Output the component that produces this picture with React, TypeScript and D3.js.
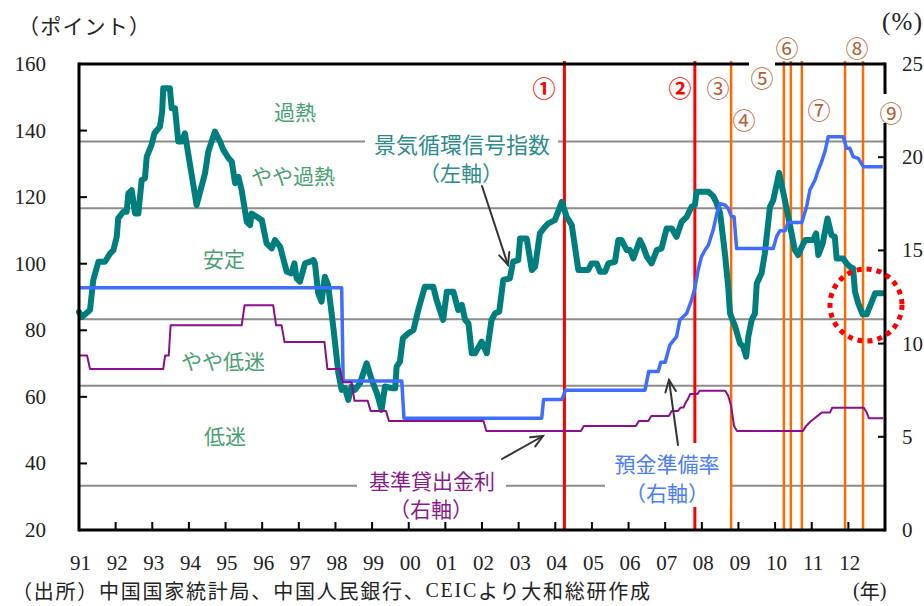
import React from 'react';
import * as d3 from 'd3';

const W = 924;
const H = 606;
const PL = 79, PR = 885, PT = 64, PB = 530;

const yearLabels = ['91','92','93','94','95','96','97','98','99','00','01','02','03','04','05','06','07','08','09','10','11','12'];
const leftTicks = [20, 40, 60, 80, 100, 120, 140, 160];
const rightTicks = [0, 5, 10, 15, 20, 25];
const zoneLines = [136.7, 116.7, 83.3, 63.3, 33.3];
const zoneNames = ['過熱', 'やや過熱', '安定', 'やや低迷', '低迷'];
const eventDates = [2004.25, 2007.81, 2008.80, 2010.24, 2010.43, 2010.73, 2011.91, 2012.40];
const eventMarks = ['①', '②', '③', '④', '⑤', '⑥', '⑦', '⑧', '⑨'];

// 景気循環信号指数 (left axis) [year, index]
const ceiIndex: [number, number][] = [
  [1991.00, 85.5], [1991.08, 84.0], [1991.30, 86.1], [1991.39, 95.1], [1991.53, 100.6], [1991.71, 100.6],
  [1991.85, 103.1], [1991.94, 104.1], [1992.03, 108.1], [1992.07, 113.6], [1992.21, 115.6], [1992.30, 115.6],
  [1992.35, 121.2], [1992.44, 122.1], [1992.53, 115.1], [1992.62, 115.1], [1992.71, 125.1], [1992.80, 125.7],
  [1992.85, 132.2], [1992.98, 135.7], [1993.06, 139.2], [1993.21, 141.2], [1993.27, 145.7], [1993.30, 152.7],
  [1993.48, 152.7], [1993.53, 146.7], [1993.62, 146.7], [1993.71, 136.7], [1993.80, 136.7], [1993.89, 139.2],
  [1994.21, 117.6], [1994.44, 127.2], [1994.53, 133.7], [1994.71, 139.7], [1994.85, 136.7], [1994.94, 134.2],
  [1995.08, 131.7], [1995.17, 130.7], [1995.26, 124.2], [1995.35, 126.1], [1995.44, 122.1], [1995.58, 112.6],
  [1995.67, 111.6], [1995.71, 115.1], [1995.85, 114.1], [1995.99, 113.1], [1996.12, 106.1], [1996.26, 104.6],
  [1996.35, 107.1], [1996.49, 105.1], [1996.67, 97.6], [1996.80, 97.1], [1996.88, 100.1], [1996.94, 95.6],
  [1997.03, 94.6], [1997.17, 100.1], [1997.31, 100.6], [1997.40, 101.1], [1997.44, 100.1], [1997.53, 91.1],
  [1997.62, 88.6], [1997.71, 96.1], [1997.80, 93.6], [1997.94, 81.1], [1998.08, 67.1], [1998.17, 62.1],
  [1998.26, 62.6], [1998.35, 59.1], [1998.44, 63.1], [1998.53, 62.1], [1998.67, 64.1], [1998.85, 70.1],
  [1998.99, 65.1], [1999.13, 61.1], [1999.26, 56.1], [1999.35, 63.1], [1999.54, 62.6], [1999.63, 62.6],
  [1999.67, 69.1], [1999.76, 70.6], [1999.84, 77.6], [1999.99, 79.1], [2000.13, 80.1], [2000.26, 86.1],
  [2000.44, 93.1], [2000.67, 93.1], [2000.76, 89.1], [2000.94, 83.1], [2001.04, 91.6], [2001.22, 91.6],
  [2001.35, 86.1], [2001.45, 87.6], [2001.54, 83.1], [2001.63, 82.1], [2001.72, 73.1], [2001.81, 73.1],
  [2001.99, 76.6], [2002.13, 73.1], [2002.26, 83.1], [2002.36, 85.1], [2002.47, 85.6], [2002.58, 95.1],
  [2002.76, 95.6], [2002.85, 100.6], [2002.99, 101.1], [2003.04, 107.6], [2003.22, 107.6], [2003.36, 98.1],
  [2003.45, 99.1], [2003.58, 109.1], [2003.72, 111.1], [2003.81, 112.1], [2003.99, 113.1], [2004.18, 118.6],
  [2004.31, 114.1], [2004.45, 111.6], [2004.63, 98.1], [2004.90, 98.1], [2004.99, 100.1], [2005.13, 100.1],
  [2005.22, 97.6], [2005.36, 97.6], [2005.45, 100.1], [2005.63, 100.6], [2005.72, 107.1], [2005.81, 107.1],
  [2005.95, 104.1], [2006.04, 104.1], [2006.13, 101.6], [2006.31, 107.1], [2006.40, 105.1], [2006.50, 102.1],
  [2006.63, 100.1], [2006.77, 104.1], [2006.90, 104.6], [2007.04, 110.6], [2007.18, 110.6], [2007.31, 108.1],
  [2007.45, 112.6], [2007.59, 114.1], [2007.72, 117.1], [2007.81, 117.6], [2007.86, 121.6], [2008.18, 121.6],
  [2008.31, 120.3], [2008.41, 118.1], [2008.50, 115.1], [2008.63, 103.1], [2008.72, 93.1], [2008.77, 85.1],
  [2008.91, 81.1], [2009.04, 76.1], [2009.13, 75.1], [2009.21, 72.1], [2009.27, 78.1], [2009.36, 83.1],
  [2009.45, 85.1], [2009.50, 94.1], [2009.63, 97.1], [2009.72, 103.1], [2009.86, 117.1], [2009.95, 119.1],
  [2010.11, 127.3], [2010.22, 121.6], [2010.36, 114.1], [2010.54, 104.1], [2010.63, 102.6], [2010.73, 105.1],
  [2010.82, 107.1], [2011.04, 107.1], [2011.12, 109.1], [2011.18, 102.6], [2011.30, 106.1], [2011.43, 113.6],
  [2011.54, 108.6], [2011.63, 108.1], [2011.68, 101.6], [2011.86, 101.6], [2011.95, 100.1], [2012.04, 99.1],
  [2012.13, 98.6], [2012.18, 91.6], [2012.27, 88.1], [2012.39, 84.8], [2012.50, 84.8], [2012.64, 88.6],
  [2012.73, 91.1], [2012.94, 91.1],
];

// 預金準備率 (right axis, %)
const reserveRatio: [number, number][] = [
  [1991.00, 13.0], [1998.17, 13.0], [1998.21, 8.0], [1999.81, 8.0], [1999.87, 6.0], [2003.63, 6.0],
  [2003.68, 7.0], [2004.18, 7.0], [2004.28, 7.5], [2006.45, 7.5], [2006.55, 8.5], [2006.81, 8.5],
  [2006.88, 9.0], [2007.00, 9.0], [2007.09, 9.66], [2007.13, 9.93], [2007.31, 10.37], [2007.40, 11.27],
  [2007.54, 11.53], [2007.59, 11.63], [2007.72, 12.34], [2007.81, 12.97], [2007.90, 13.95], [2007.99, 14.66],
  [2008.09, 15.02], [2008.18, 15.29], [2008.31, 16.09], [2008.41, 16.99], [2008.50, 17.5], [2008.63, 17.44],
  [2008.72, 17.26], [2008.81, 16.81], [2008.88, 16.81], [2008.95, 15.1], [2009.95, 15.1], [2010.04, 15.74],
  [2010.13, 16.05], [2010.27, 16.05], [2010.36, 16.5], [2010.73, 16.5], [2010.86, 17.34], [2010.95, 18.24],
  [2011.09, 18.78], [2011.18, 19.31], [2011.27, 19.76], [2011.36, 20.29], [2011.45, 21.1], [2011.86, 21.1],
  [2011.95, 20.48], [2012.04, 20.48], [2012.13, 20.03], [2012.27, 19.94], [2012.41, 19.49], [2012.94, 19.49],
];

// 基準貸出金利 (right axis, %)
const lendingRate: [number, number][] = [
  [1991.00, 9.36], [1991.22, 9.36], [1991.30, 8.64], [1993.30, 8.64], [1993.35, 9.36], [1993.45, 9.36],
  [1993.50, 10.98], [1995.44, 10.98], [1995.52, 12.06], [1996.30, 12.06], [1996.38, 10.98], [1996.53, 10.98],
  [1996.61, 10.08], [1997.70, 10.08], [1997.78, 8.64], [1998.12, 8.64], [1998.20, 7.92], [1998.44, 7.92],
  [1998.52, 6.93], [1998.88, 6.93], [1998.96, 6.39], [1999.38, 6.39], [1999.46, 5.85], [2002.04, 5.85],
  [2002.12, 5.31], [2004.70, 5.31], [2004.78, 5.58], [2006.20, 5.58], [2006.28, 5.85], [2006.54, 5.85],
  [2006.62, 6.12], [2007.10, 6.12], [2007.18, 6.39], [2007.35, 6.39], [2007.42, 6.57], [2007.50, 6.57],
  [2007.56, 6.84], [2007.62, 7.02], [2007.68, 7.29], [2007.88, 7.29], [2007.94, 7.47], [2008.64, 7.47],
  [2008.72, 7.2], [2008.80, 6.66], [2008.88, 5.58], [2008.96, 5.31], [2010.76, 5.31], [2010.84, 5.56],
  [2010.96, 5.81], [2011.12, 6.06], [2011.28, 6.31], [2011.50, 6.31], [2011.56, 6.56], [2012.42, 6.56],
  [2012.50, 6.31], [2012.56, 6.0], [2012.95, 6.0],
];

const SERIF = "Liberation Serif";
const CJK = "Noto Sans CJK JP";

const Arrow = ({ x1, y1, x2, y2 }: { x1: number; y1: number; x2: number; y2: number }) => {
  const a = Math.atan2(y2 - y1, x2 - x1);
  const L = 13, s = 0.42;
  const p1 = [x2 - L * Math.cos(a - s), y2 - L * Math.sin(a - s)];
  const p2 = [x2 - L * Math.cos(a + s), y2 - L * Math.sin(a + s)];
  return (
    <g stroke="#333" strokeWidth={2} fill="none" strokeLinecap="round">
      <line x1={x1} y1={y1} x2={x2} y2={y2} />
      <polyline points={`${p1[0]},${p1[1]} ${x2},${y2} ${p2[0]},${p2[1]}`} />
    </g>
  );
};

export default function App() {
  const x = d3.scaleLinear().domain([1991, 2013]).range([PL, PR]);
  const yL = d3.scaleLinear().domain([20, 160]).range([PB, PT]);
  const yR = d3.scaleLinear().domain([0, 25]).range([PB, PT]);

  const lineL = d3.line<[number, number]>().x(d => x(d[0])).y(d => yL(d[1]));
  const lineR = d3.line<[number, number]>().x(d => x(d[0])).y(d => yR(d[1]));

  const years = d3.range(1991, 2013);

  const zoneLabelPos: [number, number][] = [[295, 111], [293, 175], [224, 258], [223, 360], [225, 435]];
  const markPos: [number, number, string, boolean][] = [
    [544, 87, '#ff0000', true], [680, 87, '#ff0000', true], [718, 87, '#b0603a', false],
    [744, 119, '#b0603a', false], [762, 77, '#b0603a', false], [787, 47, '#b0603a', false],
    [819, 109, '#b0603a', false], [857, 47, '#b0603a', false], [891, 112, '#b0603a', false],
  ];

  const serifStyle = { fontFamily: SERIF };
  const cjkStyle = { fontFamily: CJK };

  return (
    <svg width={W} height={H} style={{ position: 'absolute', left: 0, top: 0, background: '#fff' }}>
      <rect x={0} y={0} width={W} height={H} fill="#fff" />

      {/* zone boundary lines */}
      {zoneLines.map((v, i) => (
        <line key={i} x1={PL} x2={PR} y1={yL(v)} y2={yL(v)} stroke="#8c8c8c" strokeWidth={2} />
      ))}

      {/* event vertical lines */}
      {eventDates.map((d, i) => (
        <line key={i} x1={x(d)} x2={x(d)} y1={61} y2={PB} stroke={i < 2 ? '#ff0000' : '#ff6a00'} strokeWidth={i < 2 ? 3 : 2.5} />
      ))}

      {/* series */}
      <path d={lineL(ceiIndex) || ''} fill="none" stroke="#007d7d" strokeWidth={6} strokeLinejoin="round" strokeLinecap="round" />
      <path d={lineR(reserveRatio) || ''} fill="none" stroke="#3f6dff" strokeWidth={3.5} strokeLinejoin="round" />
      <path d={lineR(lendingRate) || ''} fill="none" stroke="#8b0f8b" strokeWidth={2} strokeLinejoin="round" />

      {/* label backgrounds */}
      <rect x={365} y={128} width={193} height={55} fill="#fff" />
      <rect x={357} y={467} width={149} height={52} fill="#fff" />
      <rect x={605} y={443} width={125} height={64} fill="#fff" />

      {/* axes frame */}
      <g stroke="#000" strokeWidth={3} fill="none">
        <line x1={PL} x2={PL} y1={PT - 1.5} y2={PB + 1.5} />
        <line x1={PR} x2={PR} y1={PT - 1.5} y2={PB + 1.5} />
        <line x1={PL} x2={PR} y1={PB} y2={PB} />
        <line x1={PL} x2={PR} y1={PT} y2={PT} />
      </g>
      {/* ticks */}
      <g stroke="#000" strokeWidth={2}>
        {leftTicks.map(t => <line key={t} x1={PL} x2={PL + 8} y1={yL(t)} y2={yL(t)} />)}
        {rightTicks.map(t => <line key={t} x1={PR - 7} x2={PR} y1={yR(t)} y2={yR(t)} />)}
        {years.slice(1).map(yv => <line key={yv} x1={x(yv)} x2={x(yv)} y1={PB} y2={PB - 8} />)}
      </g>

      {/* white boxes covering frame for ⑤ and ⑨ */}
      <rect x={749} y={58} width={26} height={10} fill="#fff" />
      <rect x={879} y={94} width={12} height={29} fill="#fff" />

      {/* dotted circle */}
      <circle cx={866} cy={305} r={36} fill="none" stroke="#ff0000" strokeWidth={5} strokeDasharray="5 5" />

      {/* tick labels */}
      <g style={serifStyle} fontSize={21} fill="#222">
        {leftTicks.map(t => (
          <text key={t} x={46} y={yL(t)} textAnchor="end" dominantBaseline="central">{t}</text>
        ))}
        {rightTicks.map(t => (
          <text key={t} x={902} y={yR(t)} textAnchor="start" dominantBaseline="central">{t}</text>
        ))}
        {years.map((yv, i) => (
          <text key={yv} x={x(yv) + 1.5} y={563} textAnchor="middle" dominantBaseline="central">{yearLabels[i]}</text>
        ))}
      </g>

      {/* axis titles */}
      <text x={18} y={25} style={cjkStyle} fontSize={21} fill="#222" dominantBaseline="central" textLength={132} lengthAdjust="spacing">（ポイント）</text>
      <text x={882} y={21} style={serifStyle} fontSize={25} fill="#222" dominantBaseline="central" textLength={40} lengthAdjust="spacing">(%)</text>
      <text x={853} y={590} fontSize={20} fill="#222" dominantBaseline="central">
        <tspan style={serifStyle}>(</tspan><tspan style={cjkStyle}>年</tspan><tspan style={serifStyle}>)</tspan>
      </text>
      <text x={12} y={590} fontSize={20} fill="#222" dominantBaseline="central" textLength={638} lengthAdjust="spacing">
        <tspan style={cjkStyle}>（出所）中国国家統計局、中国人民銀行、</tspan><tspan style={serifStyle}>CEIC</tspan><tspan style={cjkStyle}>より大和総研作成</tspan>
      </text>

      {/* zone labels */}
      {zoneNames.map((n, i) => (
        <text key={n} x={zoneLabelPos[i][0]} y={zoneLabelPos[i][1]} style={cjkStyle} fontSize={21} fill="#4a9f72" textAnchor="middle" dominantBaseline="central">{n}</text>
      ))}

      {/* series labels */}
      <g style={cjkStyle} fontSize={21} textAnchor="middle" dominantBaseline="central">
        <text x={462} y={143} fill="#2e8b8b" fontSize={22}>景気循環信号指数</text>
        <text x={461} y={172} fill="#2e8b8b">（左軸）</text>
        <text x={432} y={480} fill="#8b1a8b">基準貸出金利</text>
        <text x={431} y={508} fill="#8b1a8b">（右軸）</text>
        <text x={667} y={463} fill="#4a7cff">預金準備率</text>
        <text x={667} y={492} fill="#4a7cff">（右軸）</text>
      </g>

      <Arrow x1={482} y1={186} x2={508} y2={265} />
      <Arrow x1={502} y1={459} x2={543} y2={436} />
      <Arrow x1={678} y1={445} x2={669} y2={380} />

      {/* event marks */}
      {markPos.map((m, i) => (
        <text key={i} x={m[0]} y={m[1]} fill={m[2]} fontWeight={m[3] ? 'bold' : 'normal'} style={cjkStyle} fontSize={23} textAnchor="middle" dominantBaseline="central">{eventMarks[i]}</text>
      ))}
    </svg>
  );
}
